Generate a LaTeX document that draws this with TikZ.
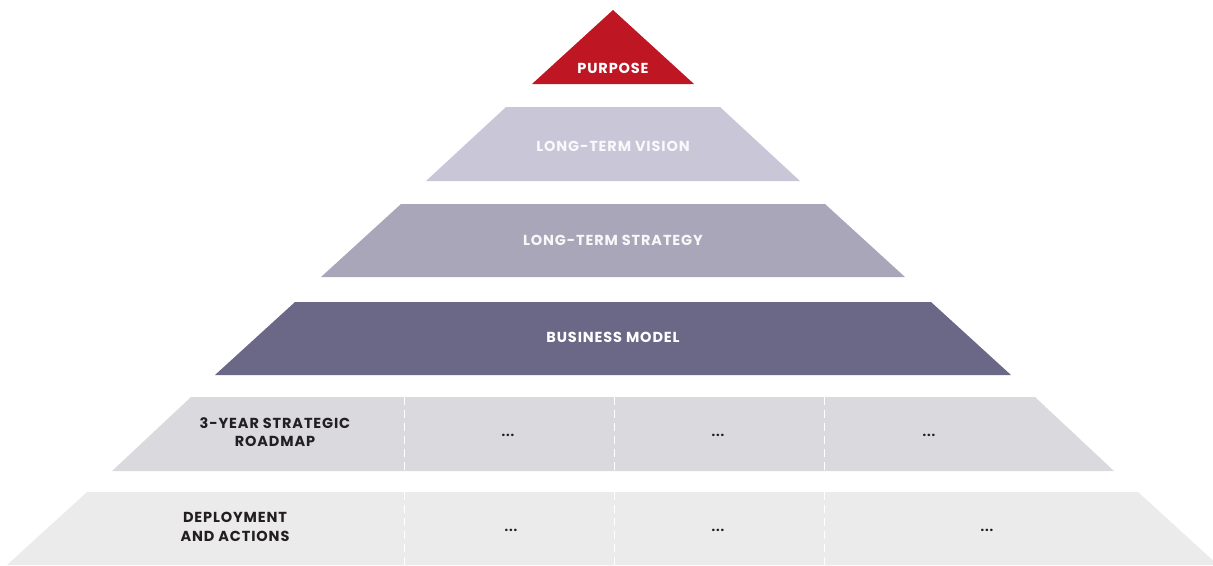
\documentclass[tikz,border=0pt]{standalone}
\usepackage{fontspec}
\setmainfont{Poppins}[LetterSpace=6]

\definecolor{purposered}{HTML}{BE1622}
\definecolor{visionlav}{HTML}{C9C6D8}
\definecolor{strategylav}{HTML}{A9A6BA}
\definecolor{businesslav}{HTML}{6B6786}
\definecolor{roadmapgray}{HTML}{DAD9DE}
\definecolor{deploygray}{HTML}{EBEBEB}
\definecolor{darktext}{HTML}{231F20}

\begin{document}
\begin{tikzpicture}[x=1pt,y=-1pt,
        lbl/.style={font=\fontsize{14.5}{18.5}\selectfont\bfseries, align=center},
        dots/.style={font=\fontsize{13}{14}\selectfont\bfseries, text=darktext},
        sep/.style={white, line width=1pt, dash pattern=on 8pt off 5pt}]
        \useasboundingbox (0,0) rectangle (1213,565);

        % pyramid layers, top to bottom
        \fill[purposered] (613,10) -- (694,84) -- (532,84) -- cycle;
        \fill[visionlav] (506,107) -- (720,107) -- (800,181) -- (426,181) -- cycle;
        \fill[strategylav] (401,204) -- (825,204) -- (905,277) -- (321,277) -- cycle;
        \fill[businesslav] (295,302) -- (931,302) -- (1011,375) -- (215,375) -- cycle;
        \fill[roadmapgray] (191,397) -- (1035,397) -- (1114,471) -- (112,471) -- cycle;
        \fill[deploygray] (87,492) -- (1138,492) -- (1218,565) -- (7,565) -- cycle;

        % column separators
        \foreach \x in {404,614,824} {
            \draw[sep] (\x,397) -- (\x,471);
            \draw[sep] (\x,492) -- (\x,565);
        }

        \node[lbl, text=white] (purpose) at (613,68) {PURPOSE};
        \node[lbl, text=white!88!visionlav] (vision) at (613,146) {LONG-TERM VISION};
        \node[lbl, text=white!92!strategylav] (strategy) at (613,240) {LONG-TERM STRATEGY};
        \node[lbl, text=white] (business) at (613,337) {BUSINESS MODEL};

        \node[lbl, text=darktext] (roadmap) at (275,432) {3-YEAR STRATEGIC\\ROADMAP};
        \node[dots] (roadmapa) at (508,435) {...};
        \node[dots] (roadmapb) at (718,435) {...};
        \node[dots] (roadmapc) at (929,435) {...};

        \node[lbl, text=darktext] (deploy) at (235,527) {DEPLOYMENT\\AND ACTIONS};
        \node[dots] (deploya) at (511,530) {...};
        \node[dots] (deployb) at (718,530) {...};
        \node[dots] (deployc) at (987,530) {...};
    \end{tikzpicture}
\end{document}
